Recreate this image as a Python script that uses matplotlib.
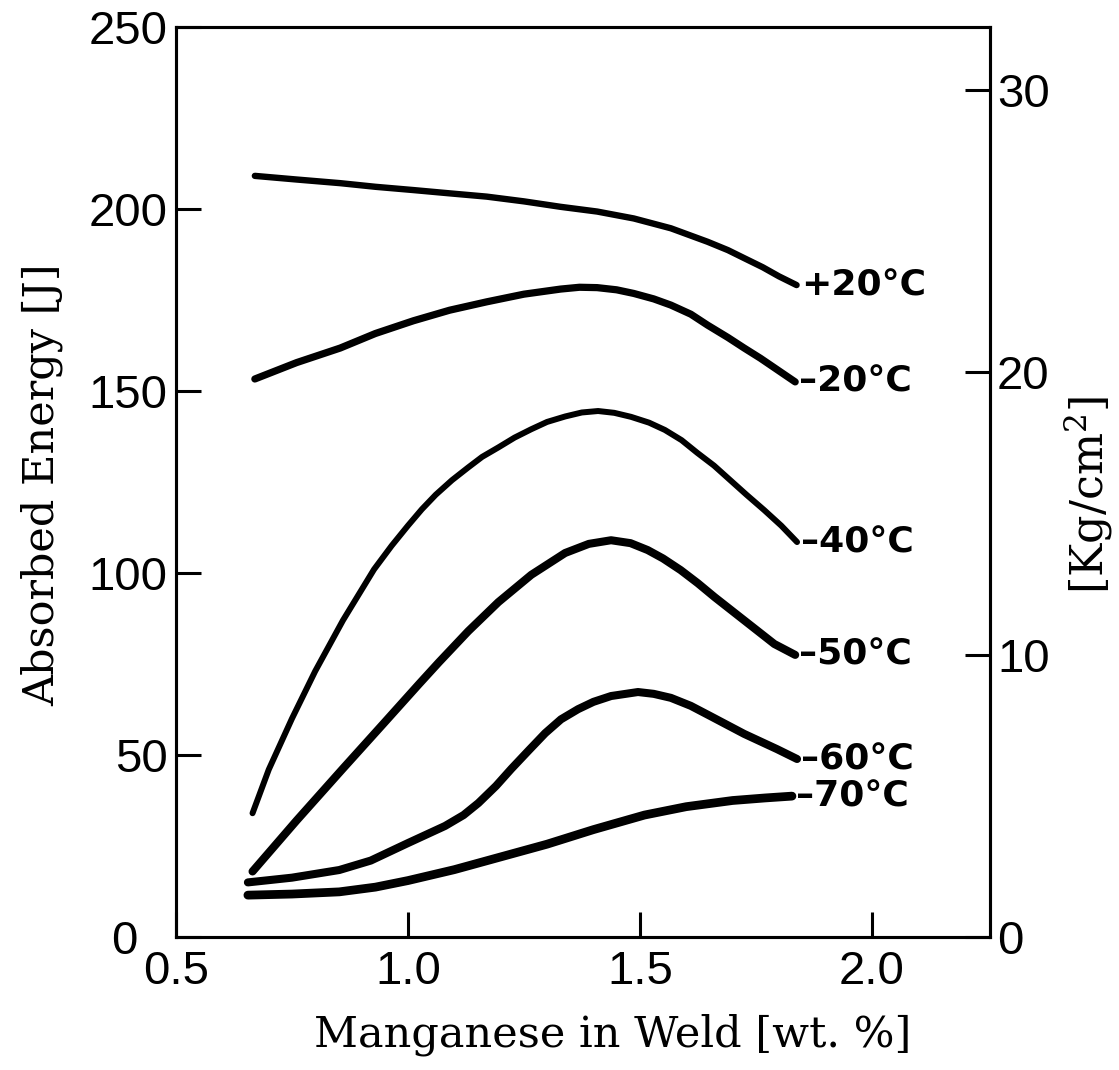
import numpy as np
import matplotlib
matplotlib.use("Agg")
from matplotlib import pyplot as plt
from matplotlib.transforms import ScaledTranslation

# Mn content [wt.%] and absorbed energy [J]
mn_p20 = [0.670, 0.760, 0.854, 0.930, 1.012, 1.090, 1.170, 1.250, 1.329, 1.408, 1.487, 1.567, 1.646, 1.690, 1.725, 1.765, 1.800, 1.838]
e_p20 = [209.1, 208.1, 207.1, 206.1, 205.2, 204.3, 203.4, 202.1, 200.6, 199.3, 197.4, 194.7, 191.0, 188.7, 186.5, 184.0, 181.5, 179.1]

mn_m20 = [0.670, 0.760, 0.854, 0.930, 1.012, 1.090, 1.170, 1.250, 1.329, 1.370, 1.408, 1.450, 1.487, 1.530, 1.567, 1.610, 1.646, 1.690, 1.725, 1.760, 1.790, 1.835]
e_m20 = [153.3, 157.8, 161.8, 165.8, 169.3, 172.2, 174.5, 176.6, 178.0, 178.5, 178.4, 177.8, 176.8, 175.3, 173.6, 171.1, 168.1, 164.7, 161.8, 159.0, 156.4, 152.5]

mn_m40 = [0.665, 0.700, 0.750, 0.800, 0.860, 0.927, 0.965, 1.000, 1.030, 1.060, 1.095, 1.130, 1.160, 1.195, 1.230, 1.266, 1.300, 1.339, 1.375, 1.410, 1.445, 1.481, 1.520, 1.554, 1.590, 1.624, 1.660, 1.695, 1.730, 1.768, 1.805, 1.839]
e_m40 = [34, 46, 60, 73, 87, 101, 107.5, 113, 117.5, 121.5, 125.5, 129, 131.9, 134.5, 137.2, 139.5, 141.5, 143, 144.1, 144.5, 144.0, 142.9, 141.3, 139.3, 136.5, 133, 129.5, 125.5, 121.5, 117.3, 113, 108.5]

mn_m50 = [0.665, 0.760, 0.858, 0.950, 1.024, 1.067, 1.130, 1.195, 1.266, 1.339, 1.390, 1.438, 1.480, 1.517, 1.550, 1.588, 1.625, 1.661, 1.700, 1.732, 1.790, 1.835]
e_m50 = [18, 32, 46, 59, 69.5, 75.5, 84, 92, 99.5, 105.5, 108, 109, 108.2, 106.3, 104.0, 100.8, 97.2, 93.4, 89.5, 86.3, 80.5, 77.5]

mn_m60 = [0.655, 0.750, 0.852, 0.920, 1.000, 1.080, 1.120, 1.152, 1.190, 1.223, 1.260, 1.296, 1.330, 1.367, 1.400, 1.438, 1.496, 1.530, 1.567, 1.610, 1.652, 1.725, 1.796, 1.839]
e_m60 = [15, 16.3, 18.4, 21, 25.8, 30.5, 33.5, 36.8, 41.5, 46.2, 51.2, 56, 59.8, 62.6, 64.6, 66.2, 67.3, 66.8, 65.7, 63.5, 60.7, 55.8, 51.6, 48.9]

mn_m70 = [0.655, 0.750, 0.852, 0.930, 1.000, 1.050, 1.100, 1.200, 1.300, 1.400, 1.510, 1.600, 1.700, 1.770, 1.828]
e_m70 = [11.5, 11.8, 12.4, 13.7, 15.5, 17.0, 18.5, 22, 25.5, 29.5, 33.5, 35.8, 37.5, 38.2, 38.7]

labels = ["+20°C", "–20°C", "–40°C", "–50°C", "–60°C", "–70°C"]
widths = [4.6, 5.2, 4.3, 5.8, 5.8, 6.3]

x_ticks = [0.5, 1.0, 1.5, 2.0]
y_ticks = [0, 50, 100, 150, 200, 250]
kg_ticks = [0, 10, 20, 30]
j_per_kg = 7.756   # J per kgm/cm2 as drawn on the right scale

curves = [(mn_p20, e_p20), (mn_m20, e_m20), (mn_m40, e_m40),
          (mn_m50, e_m50), (mn_m60, e_m60), (mn_m70, e_m70)]

plt.rcParams["mathtext.fontset"] = "dejavuserif"

fig = plt.figure(figsize=(11.19, 10.70), dpi=100)
ax = fig.add_axes([176/1119, 1-937/1070, (990-176)/1119, (937-27)/1070])

for (xs, ys), lab, lw in zip(curves, labels, widths):
    ax.plot(xs, ys, color="black", lw=lw, solid_capstyle="round",
            solid_joinstyle="round")
    ax.annotate(lab, (xs[-1], ys[-1]), xytext=(3, 0), textcoords="offset points",
                va="center", ha="left", fontsize=26, fontweight="bold",
                family="DejaVu Sans")

ax.set_xlim(0.5, 2.255)
ax.set_ylim(0, 250)
ax.set_xticks(x_ticks)
ax.set_xticklabels(["0.5", "1.0", "1.5", "2.0"])
ax.set_yticks(y_ticks)

for sp in ax.spines.values():
    sp.set_linewidth(2.2)

ax.tick_params(axis="both", direction="in", length=18, width=2.2)
ax.tick_params(axis="x", pad=9)
ax.tick_params(axis="y", pad=6)
for t in ax.get_xticklabels() + ax.get_yticklabels():
    t.set_fontfamily("Liberation Sans")
    t.set_fontsize(34)

# the corner "0" sits further left, clear of "0.5"
zero = ax.yaxis.get_major_ticks()[0].label1
zero.set_transform(zero.get_transform() + ScaledTranslation(-30/100, 0, fig.dpi_scale_trans))

ax.set_xlabel("Manganese in Weld [wt. %]", family="DejaVu Serif", fontsize=31)
ax.xaxis.set_label_coords(0.536, -0.084)
ax.set_ylabel("Absorbed Energy [J]", family="DejaVu Serif", fontsize=31)
ax.yaxis.set_label_coords(-0.138, 0.497)

ax2 = ax.twinx()
ax2.set_ylim(0, 250/j_per_kg)
ax2.set_yticks(kg_ticks)
ax2.tick_params(axis="y", direction="in", length=18, width=2.2, pad=5)
for t in ax2.get_yticklabels():
    t.set_fontfamily("Liberation Sans")
    t.set_fontsize(34)
for sp in ax2.spines.values():
    sp.set_linewidth(2.2)
ax2.set_ylabel("[Kg/cm$^2$]", family="DejaVu Serif", fontsize=32)
ax2.yaxis.set_label_coords(1.088, 0.486)

fig.savefig("out.png", dpi=100)
